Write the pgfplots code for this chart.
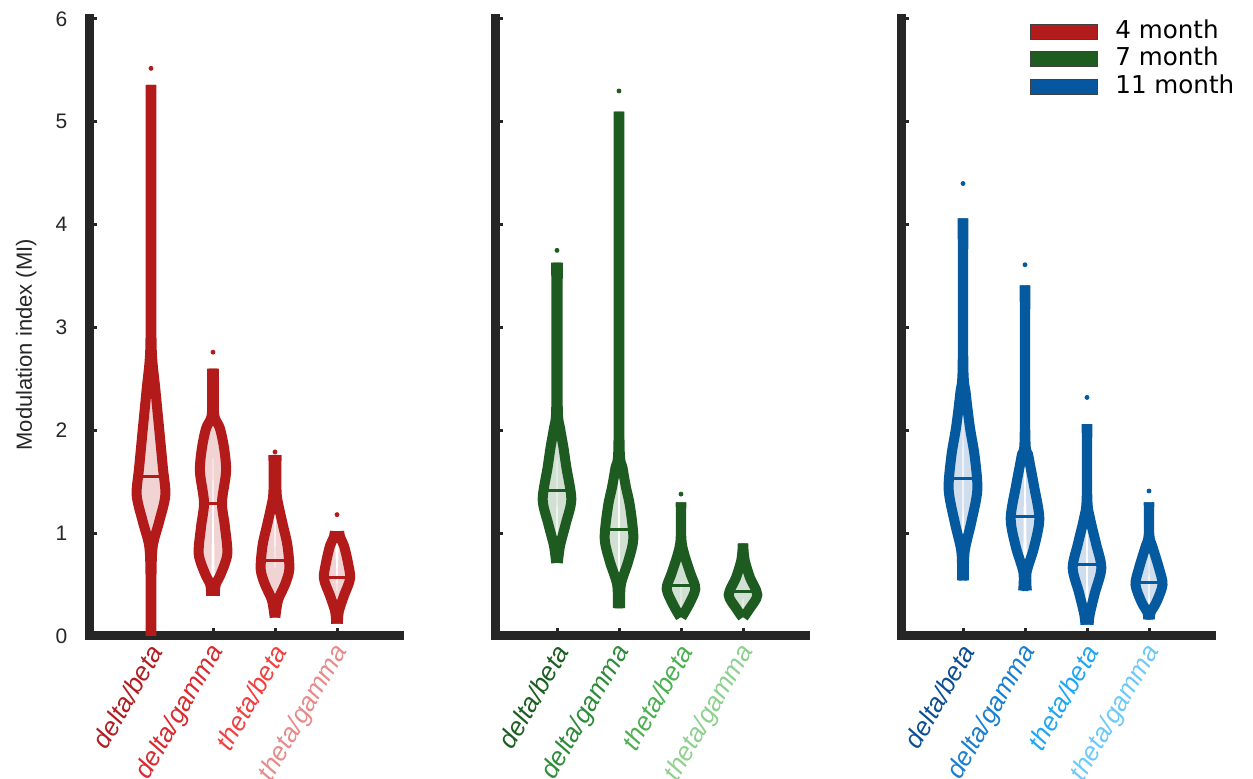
\documentclass[border=0pt]{standalone}
\usepackage{pgfplots}
\pgfplotsset{compat=1.18}
\usepackage{pgfplotstable}
\usepgfplotslibrary{fillbetween}
\usepackage{fontspec}
\setmainfont{Liberation Sans}
\newfontfamily\legfont{DejaVu Sans}

\definecolor{axgray}{HTML}{262626}
\definecolor{rline}{HTML}{B31B1B}\definecolor{rfill}{HTML}{F1D3D4}
\definecolor{gline}{HTML}{1E5B20}\definecolor{gfill}{HTML}{D2DFD3}
\definecolor{bline}{HTML}{05599F}\definecolor{bfill}{HTML}{CFDDEC}
\definecolor{r1}{HTML}{B01E22}\definecolor{r2}{HTML}{D92B2F}\definecolor{r3}{HTML}{F04040}\definecolor{r4}{HTML}{E88A8A}
\definecolor{g1}{HTML}{1B5E20}\definecolor{g2}{HTML}{2E8B3A}\definecolor{g3}{HTML}{4CB050}\definecolor{g4}{HTML}{8ED08E}
\definecolor{b1}{HTML}{0D4F94}\definecolor{b2}{HTML}{1A7FD0}\definecolor{b3}{HTML}{1EA7F2}\definecolor{b4}{HTML}{6DC9F7}
\definecolor{legr}{HTML}{B21C1C}\definecolor{legg}{HTML}{1E5C20}\definecolor{legb}{HTML}{0657A0}

% violin outlines: v = MI value, w = half width (x units)
\pgfplotstableread{
v w
0.00 0.005
0.60 0.008
0.88 0.030
1.11 0.131
1.37 0.231
1.64 0.191
2.02 0.131
2.40 0.070
2.78 0.012
3.50 0.008
5.36 0.008
}\RA
\pgfplotstableread{
v w
0.39 0.030
0.50 0.044
0.61 0.131
0.80 0.231
1.07 0.191
1.30 0.145
1.60 0.211
1.83 0.178
2.02 0.111
2.13 0.025
2.30 0.013
2.60 0.013
}\RB
\pgfplotstableread{
v w
0.18 0.005
0.35 0.050
0.50 0.161
0.65 0.231
0.88 0.201
1.07 0.131
1.26 0.060
1.40 0.025
1.76 0.025
}\RC
\pgfplotstableread{
v w
0.12 0.013
0.24 0.030
0.39 0.111
0.56 0.211
0.73 0.171
0.88 0.111
0.96 0.050
1.02 0.035
}\RD
\pgfplotstableread{
v w
0.71 0.013
0.88 0.050
1.10 0.145
1.33 0.231
1.64 0.151
1.83 0.105
2.02 0.050
2.20 0.013
3.00 0.010
3.63 0.013
}\GA
\pgfplotstableread{
v w
0.27 0.019
0.50 0.030
0.73 0.151
0.95 0.231
1.26 0.178
1.45 0.111
1.64 0.056
1.83 0.010
3.00 0.005
5.10 0.005
}\GB
\pgfplotstableread{
v w
0.18 0.008
0.31 0.131
0.46 0.231
0.61 0.151
0.80 0.050
0.95 0.005
1.30 0.005
}\GC
\pgfplotstableread{
v w
0.18 0.008
0.27 0.111
0.40 0.231
0.57 0.111
0.73 0.030
0.84 0.008
0.90 0.008
}\GD
\pgfplotstableread{
v w
0.54 0.016
0.82 0.026
1.10 0.131
1.42 0.231
1.75 0.188
2.03 0.111
2.36 0.044
2.64 0.005
4.06 0.005
}\BA
\pgfplotstableread{
v w
0.44 0.030
0.62 0.026
0.86 0.145
1.14 0.231
1.46 0.145
1.75 0.055
1.95 0.005
3.41 0.005
}\BB
\pgfplotstableread{
v w
0.11 0.026
0.21 0.044
0.42 0.128
0.66 0.231
0.90 0.145
1.14 0.050
1.34 0.005
2.06 0.005
}\BC
\pgfplotstableread{
v w
0.16 0.016
0.23 0.026
0.33 0.121
0.50 0.218
0.66 0.161
0.86 0.060
0.98 0.005
1.30 0.005
}\BD

\newcommand{\violin}[5]{%
  \addplot[name path=#5a, draw=#3, line width=5pt, smooth] table[x expr=#2+\thisrow{w}, y=v] {#1};
  \addplot[name path=#5b, draw=#3, line width=5pt, smooth] table[x expr=#2-\thisrow{w}, y=v] {#1};
  \addplot[fill=#4, draw=none] fill between[of=#5a and #5b];
}

\pgfplotsset{
  panel/.style={
    scale only axis, width=155pt, height=308.5pt,
    xmin=0, xmax=5, ymin=0, ymax=6,
    axis x line=bottom, axis y line=left,
    axis line style={line width=4.5pt, color=axgray, -, line cap=rect},
    xtick={1,2,3,4}, ytick={0,1,2,3,4,5,6},
    tick align=inside, major tick length=4pt,
    tick style={line width=1.5pt, color=axgray},
    /pgf/number format/assume math mode=true,
    yticklabel style={font=\fontsize{10.5}{12}\selectfont, color=axgray, xshift=-7.3pt},
    xticklabel style={font=\fontsize{13}{15}\selectfont\itshape, rotate=60, anchor=east, inner sep=0pt, xshift=-3.5pt, yshift=-5pt},
    clip=false,
  }
}

\begin{document}
\begin{tikzpicture}
% ---------- 4 month ----------
\begin{axis}[panel, at={(0pt,0pt)}, anchor=south west,
  xticklabels={{\color{r1}delta/beta},{\color{r2}delta/gamma},{\color{r3}theta/beta},{\color{r4}theta/gamma}},
  ylabel={Modulation index (MI)},
  ylabel style={font=\fontsize{11}{13}\selectfont, color=axgray, at={(axis description cs:-0.203,0.472)}, anchor=center}]
\violin{\RA}{1}{rline}{rfill}{ra}
\violin{\RB}{2}{rline}{rfill}{rb}
\violin{\RC}{3}{rline}{rfill}{rc}
\violin{\RD}{4}{rline}{rfill}{rd}
\addplot[rline, line width=1.5pt] coordinates {(0.795,1.55) (1.205,1.55)};
\addplot[rline, line width=1.5pt] coordinates {(1.852,1.29) (2.148,1.29)};
\addplot[rline, line width=1.5pt] coordinates {(2.779,0.73) (3.221,0.73)};
\addplot[rline, line width=1.5pt] coordinates {(3.790,0.565) (4.210,0.565)};
\addplot[only marks, mark=*, mark size=1pt, rline] coordinates {(1,5.52) (2,2.76) (3,1.79) (4,1.18)};
\end{axis}
% ---------- 7 month ----------
\begin{axis}[panel, at={(203pt,0pt)}, anchor=south west, yticklabels={},
  xticklabels={{\color{g1}delta/beta},{\color{g2}delta/gamma},{\color{g3}theta/beta},{\color{g4}theta/gamma}}]
\violin{\GA}{1}{gline}{gfill}{ga}
\violin{\GB}{2}{gline}{gfill}{gb}
\violin{\GC}{3}{gline}{gfill}{gc}
\violin{\GD}{4}{gline}{gfill}{gd}
\addplot[gline, line width=1.5pt] coordinates {(0.790,1.41) (1.210,1.41)};
\addplot[gline, line width=1.5pt] coordinates {(1.785,1.04) (2.215,1.04)};
\addplot[gline, line width=1.5pt] coordinates {(2.785,0.49) (3.215,0.49)};
\addplot[gline, line width=1.5pt] coordinates {(3.790,0.43) (4.210,0.43)};
\addplot[only marks, mark=*, mark size=1pt, gline] coordinates {(1,3.75) (2,5.30) (3,1.38)};
\end{axis}
% ---------- 11 month ----------
\begin{axis}[panel, at={(406pt,0pt)}, anchor=south west, yticklabels={},
  xticklabels={{\color{b1}delta/beta},{\color{b2}delta/gamma},{\color{b3}theta/beta},{\color{b4}theta/gamma}},
  legend style={at={(axis cs:2.08,5.99)}, anchor=north west, draw=none, fill=none,
    inner sep=0pt, row sep=2.25pt, font=\legfont\fontsize{12.3}{14}\selectfont,
    nodes={inner sep=0pt, text height=9pt, text depth=2.5pt},
    /tikz/every odd column/.append style={column sep=8.5pt}},
  legend cell align=left]
\addlegendimage{legend image code/.code={\draw[fill=legr, draw=black!75, line width=0.5pt] (0pt,-3.75pt) rectangle (33.5pt,3.75pt);}}
\addlegendentry{4 month}
\addlegendimage{legend image code/.code={\draw[fill=legg, draw=black!75, line width=0.5pt] (0pt,-3.75pt) rectangle (33.5pt,3.75pt);}}
\addlegendentry{7 month}
\addlegendimage{legend image code/.code={\draw[fill=legb, draw=black!75, line width=0.5pt] (0pt,-3.75pt) rectangle (33.5pt,3.75pt);}}
\addlegendentry{11 month}
\violin{\BA}{1}{bline}{bfill}{ba}
\violin{\BB}{2}{bline}{bfill}{bb}
\violin{\BC}{3}{bline}{bfill}{bc}
\violin{\BD}{4}{bline}{bfill}{bd}
\addplot[bline, line width=1.5pt] coordinates {(0.784,1.53) (1.216,1.53)};
\addplot[bline, line width=1.5pt] coordinates {(1.770,1.16) (2.230,1.16)};
\addplot[bline, line width=1.5pt] coordinates {(2.782,0.70) (3.218,0.70)};
\addplot[bline, line width=1.5pt] coordinates {(3.790,0.52) (4.210,0.52)};
\addplot[only marks, mark=*, mark size=1pt, bline] coordinates {(1,4.40) (2,3.61) (3,2.32) (4,1.41)};
\end{axis}
\pgfresetboundingbox
\useasboundingbox (-44.5pt,-71.5pt) rectangle (582pt,318pt);
\end{tikzpicture}
\end{document}
